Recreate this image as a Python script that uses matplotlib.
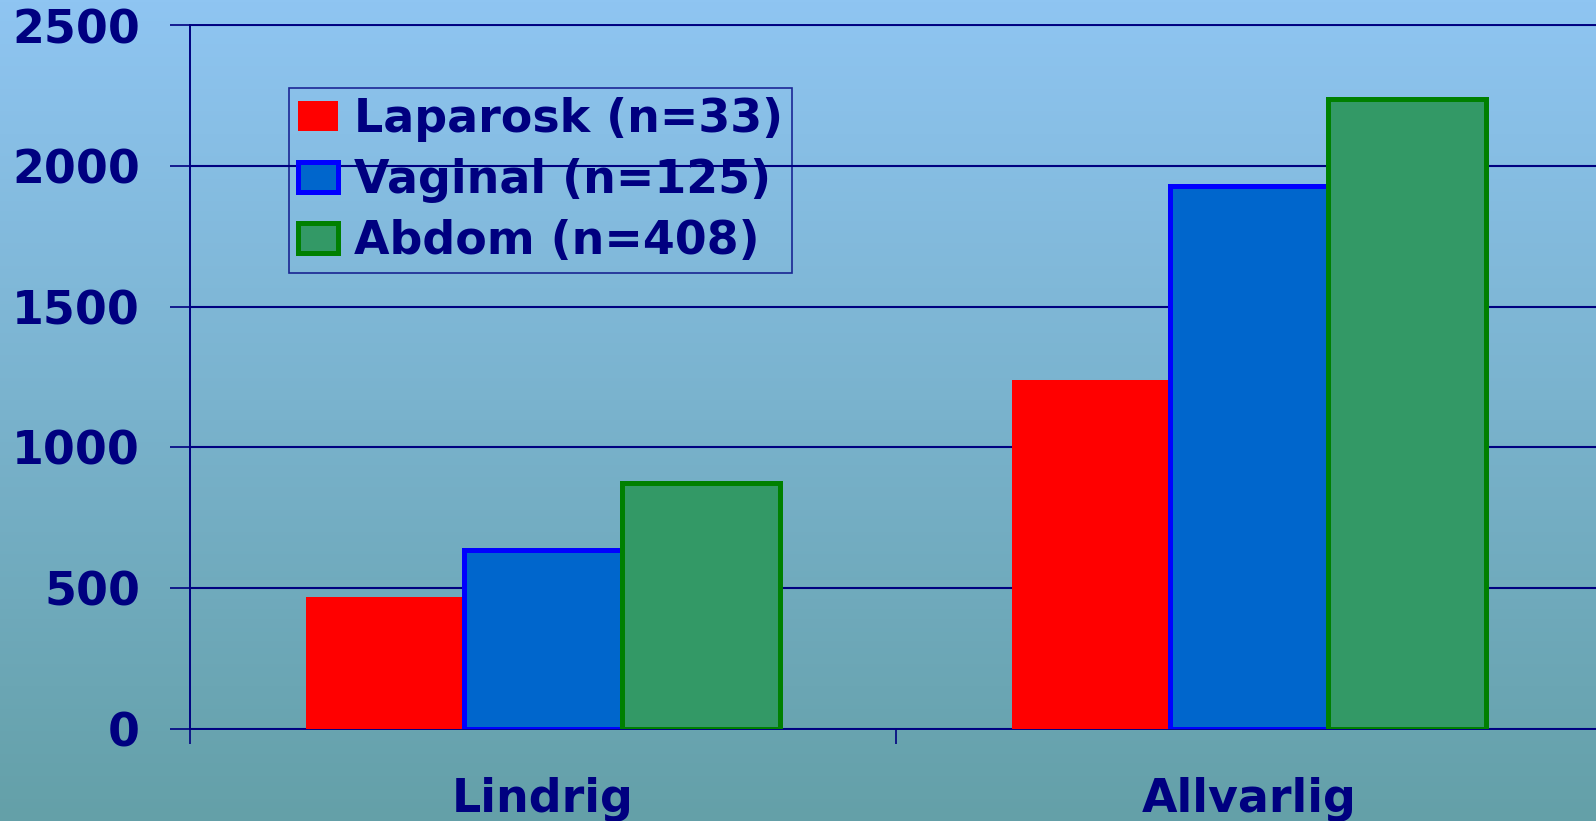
import matplotlib.pyplot as plt
import numpy as np
from matplotlib.colors import LinearSegmentedColormap

# Data
categories = ["Lindrig", "Allvarlig"]
series = ["Laparosk (n=33)", "Vaginal (n=125)", "Abdom (n=408)"]
laparosk = [467, 1239]
vaginal = [635, 1929]
abdom = [872, 2239]
y_ticks = [0, 500, 1000, 1500, 2000, 2500]

navy = "#000080"
fills = ["#FF0000", "#0066CC", "#339966"]
edges = ["#FF0000", "#0000FF", "#008000"]
widths = [0, 3.6, 3.6]

plt.rcParams["font.family"] = ["DejaVu Sans"]
plt.rcParams["font.weight"] = "bold"

W, H, DPI = 1596, 821, 100
fig = plt.figure(figsize=(W / DPI, H / DPI), dpi=DPI)

# slide-like background gradient (light blue at top, teal at bottom)
bg = fig.add_axes([0, 0, 1, 1], zorder=-10)
grad = np.linspace(0, 1, 256).reshape(-1, 1)
cmap = LinearSegmentedColormap.from_list("bg", ["#8FC5F2", "#64A0A8"])
bg.imshow(grad, aspect="auto", cmap=cmap, extent=[0, 1, 0, 1])
bg.axis("off")

ax = fig.add_axes([190 / W, (H - 728.5) / H, 1412 / W, 703 / H])
ax.set_facecolor("none")

x = np.arange(len(categories)) + 0.5
w = 0.224
for i, vals in enumerate([laparosk, vaginal, abdom]):
    ax.bar(x + (i - 1) * w, vals, w, color=fills[i], edgecolor=edges[i],
           linewidth=widths[i], label=series[i], zorder=3)

ax.set_xlim(0, 2)
ax.set_ylim(0, 2500)

ax.set_yticks(y_ticks)
ax.yaxis.grid(True, color=navy, linewidth=1.5)
ax.set_axisbelow(True)
ax.tick_params(axis="y", length=14.4, width=1.2, color=navy, pad=21.6,
               labelsize=33, labelcolor=navy)

ax.set_xticks(x, categories)
ax.tick_params(axis="x", which="major", length=0, pad=35,
               labelsize=33, labelcolor=navy)
ax.set_xticks([0, 1, 2], minor=True)
ax.tick_params(axis="x", which="minor", length=10.8, width=1.2,
               color=navy, direction="out")

for side in ["left", "bottom", "top"]:
    ax.spines[side].set_color(navy)
    ax.spines[side].set_linewidth(1.4)
ax.spines["right"].set_visible(False)

leg = ax.legend(loc="upper left", bbox_to_anchor=(289 / W, 1 - 88 / H),
                bbox_transform=fig.transFigure, borderaxespad=0,
                fontsize=33, fancybox=False, handlelength=0.87,
                handleheight=0.65, handletextpad=0.35, labelspacing=0.35,
                borderpad=0.2, labelcolor=navy)
leg.get_frame().set_facecolor("none")
leg.get_frame().set_edgecolor(navy)
leg.get_frame().set_linewidth(1.2)

fig.savefig("out.png", dpi=DPI)
